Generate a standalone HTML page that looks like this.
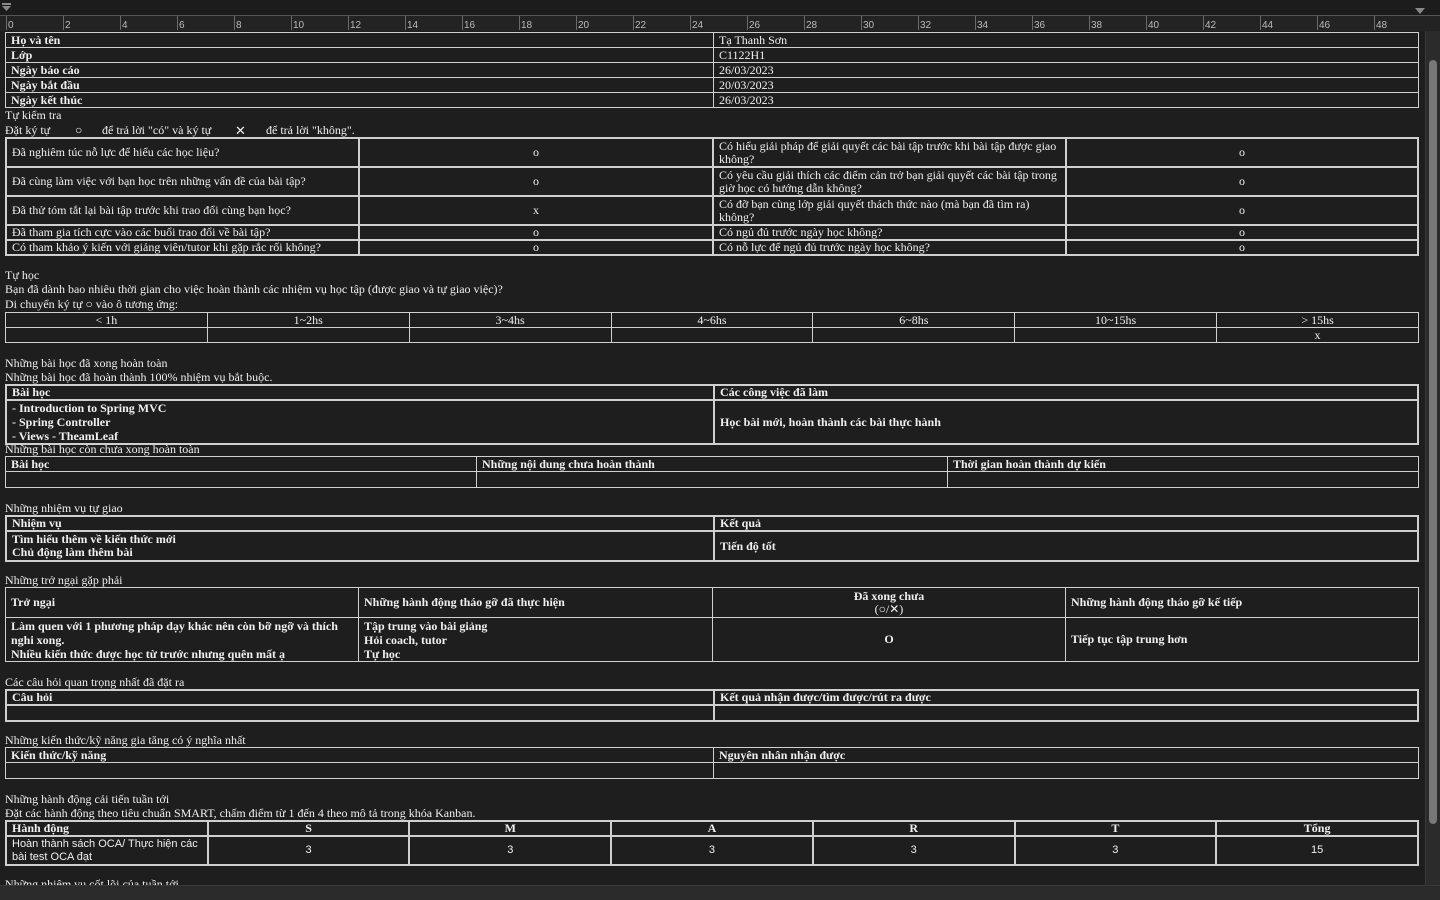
<!DOCTYPE html>
<html><head><meta charset="utf-8">
<style>
*{margin:0;padding:0;box-sizing:border-box}
html,body{width:1440px;height:900px;overflow:hidden;background:#1e1e1e;color:#f0f0f0;font-family:"Liberation Serif","DejaVu Serif",serif;font-size:12px;line-height:13px}
.t{position:absolute;left:5px;white-space:nowrap}
table{position:absolute;left:5px;width:1414px;border-collapse:collapse;table-layout:fixed}
td{border:1px solid #d0d0d0;padding:0 5px;vertical-align:middle;overflow:hidden;white-space:nowrap}
table.d td{border:2px solid #cfcfcf}
b{font-weight:bold}
.c{text-align:center}
.s{font-family:"Liberation Sans",sans-serif;font-size:11px}
</style></head><body>
<div style="position:absolute;left:0;top:0;width:1440px;height:15px;background:#1c1c1c"></div>
<svg style="position:absolute;left:0;top:0" width="1440" height="32">
<rect x="0" y="15" width="1440" height="16" fill="#232323"/>
<line x1="0" y1="15.5" x2="1440" y2="15.5" stroke="#555"/>
<polygon points="2,6 11,6 6.5,11" fill="#888"/>
<rect x="2" y="3" width="9" height="2" fill="#888"/>
<polygon points="1415,8 1425,8 1420,14" fill="#888"/>
</svg>
<div style="position:absolute;left:1425px;top:31px;width:15px;height:854px;background:#2b2b2b;border-left:1px solid #3a3a3a"></div>
<div style="position:absolute;left:1429px;top:60px;width:8px;height:764px;background:#777;border-radius:4px"></div>

<table style="top:32px"><colgroup><col style="width:708px"><col></colgroup>
<tr style="height:15px"><td><b>Họ và tên</b></td><td>Tạ Thanh Sơn</td></tr>
<tr style="height:15px"><td><b>Lớp</b></td><td>C1122H1</td></tr>
<tr style="height:15px"><td><b>Ngày báo cáo</b></td><td>26/03/2023</td></tr>
<tr style="height:15px"><td><b>Ngày bắt đầu</b></td><td>20/03/2023</td></tr>
<tr style="height:15px"><td><b>Ngày kết thúc</b></td><td>26/03/2023</td></tr>
</table>
<div class="t" style="top:109px">Tự kiểm tra</div>
<div class="t" style="top:124px">Đặt ký tự<span style="position:absolute;left:70px">○</span><span style="position:absolute;left:97px">để trả lời "có" và ký tự</span><span style="position:absolute;left:230px;font-size:13px">✕</span><span style="position:absolute;left:261px">để trả lời "không".</span></div>

<table class="d" style="top:137px"><colgroup><col style="width:353px"><col style="width:354px"><col style="width:353px"><col></colgroup>
<tr style="height:29px"><td>Đã nghiêm túc nỗ lực để hiểu các học liệu?</td><td class="c">o</td><td style="white-space:normal">Có hiểu giải pháp để giải quyết các bài tập trước khi bài tập được giao không?</td><td class="c">o</td></tr>
<tr style="height:29px"><td>Đã cùng làm việc với bạn học trên những vấn đề của bài tập?</td><td class="c">o</td><td style="white-space:normal">Có yêu cầu giải thích các điểm cản trở bạn giải quyết các bài tập trong giờ học có hướng dẫn không?</td><td class="c">o</td></tr>
<tr style="height:29px"><td>Đã thử tóm tắt lại bài tập trước khi trao đổi cùng bạn học?</td><td class="c">x</td><td style="white-space:normal">Có đỡ bạn cùng lớp giải quyết thách thức nào (mà bạn đã tìm ra) không?</td><td class="c">o</td></tr>
<tr style="height:15px"><td>Đã tham gia tích cực vào các buổi trao đổi về bài tập?</td><td class="c">o</td><td>Có ngủ đủ trước ngày học không?</td><td class="c">o</td></tr>
<tr style="height:15px"><td>Có tham khảo ý kiến với giảng viên/tutor khi gặp rắc rối không?</td><td class="c">o</td><td>Có nỗ lực để ngủ đủ trước ngày học không?</td><td class="c">o</td></tr>
</table>

<div class="t" style="top:269px">Tự học</div>
<div class="t" style="top:283px">Bạn đã dành bao nhiêu thời gian cho việc hoàn thành các nhiệm vụ học tập (được giao và tự giao việc)?</div>
<div class="t" style="top:298px">Di chuyển ký tự ○ vào ô tương ứng:</div>
<table style="top:312px">
<tr style="height:15px"><td class="c">&lt; 1h</td><td class="c">1~2hs</td><td class="c">3~4hs</td><td class="c">4~6hs</td><td class="c">6~8hs</td><td class="c">10~15hs</td><td class="c">&gt; 15hs</td></tr>
<tr style="height:15px"><td></td><td></td><td></td><td></td><td></td><td></td><td class="c">x</td></tr>
</table>

<div class="t" style="top:357px">Những bài học đã xong hoàn toàn</div>
<div class="t" style="top:371px">Những bài học đã hoàn thành 100% nhiệm vụ bắt buộc.</div>
<table class="d" style="top:384px"><colgroup><col style="width:708px"><col></colgroup>
<tr style="height:15px"><td><b>Bài học</b></td><td><b>Các công việc đã làm</b></td></tr>
<tr style="height:43px"><td style="line-height:14px"><b>- Introduction to Spring MVC<br>- Spring Controller<br>- Views - TheamLeaf</b></td><td><b>Học bài mới, hoàn thành các bài thực hành</b></td></tr>
</table>
<div class="t" style="top:443px">Những bài học còn chưa xong hoàn toàn</div>
<table style="top:456px"><colgroup><col style="width:471px"><col style="width:471px"><col></colgroup>
<tr style="height:15px"><td><b>Bài học</b></td><td><b>Những nội dung chưa hoàn thành</b></td><td><b>Thời gian hoàn thành dự kiến</b></td></tr>
<tr style="height:16px"><td></td><td></td><td></td></tr>
</table>

<div class="t" style="top:502px">Những nhiệm vụ tự giao</div>
<table class="d" style="top:515px"><colgroup><col style="width:708px"><col></colgroup>
<tr style="height:15px"><td><b>Nhiệm vụ</b></td><td><b>Kết quả</b></td></tr>
<tr style="height:30px"><td><b>Tìm hiểu thêm về kiến thức mới<br>Chủ động làm thêm bài</b></td><td><b>Tiến độ tốt</b></td></tr>
</table>

<div class="t" style="top:574px">Những trở ngại gặp phải</div>
<table style="top:587px"><colgroup><col style="width:353px"><col style="width:354px"><col style="width:353px"><col></colgroup>
<tr style="height:30px"><td><b>Trở ngại</b></td><td><b>Những hành động tháo gỡ đã thực hiện</b></td><td class="c"><b>Đã xong chưa</b><br>(○/✕)</td><td><b>Những hành động tháo gỡ kế tiếp</b></td></tr>
<tr style="height:44px"><td style="white-space:normal;line-height:14px"><b>Làm quen với 1 phương pháp dạy khác nên còn bỡ ngỡ và thích nghi xong.<br>Nhiều kiến thức được học từ trước nhưng quên mất ạ</b></td><td style="line-height:14px"><b>Tập trung vào bài giảng<br>Hỏi coach, tutor<br>Tự học</b></td><td class="c"><b>O</b></td><td><b>Tiếp tục tập trung hơn</b></td></tr>
</table>

<div class="t" style="top:676px">Các câu hỏi quan trọng nhất đã đặt ra</div>
<table class="d" style="top:689px"><colgroup><col style="width:708px"><col></colgroup>
<tr style="height:15px"><td><b>Câu hỏi</b></td><td><b>Kết quả nhận được/tìm được/rút ra được</b></td></tr>
<tr style="height:16px"><td></td><td></td></tr>
</table>

<div class="t" style="top:734px">Những kiến thức/kỹ năng gia tăng có ý nghĩa nhất</div>
<table style="top:747px"><colgroup><col style="width:708px"><col></colgroup>
<tr style="height:15px"><td><b>Kiến thức/kỹ năng</b></td><td><b>Nguyên nhân nhận được</b></td></tr>
<tr style="height:16px"><td></td><td></td></tr>
</table>

<div class="t" style="top:793px">Những hành động cải tiến tuần tới</div>
<div class="t" style="top:807px">Đặt các hành động theo tiêu chuẩn SMART, chấm điểm từ 1 đến 4 theo mô tả trong khóa <span style="border-bottom:1px dotted #c33">Kanban</span>.</div>
<table class="d" style="top:820px">
<tr style="height:15px"><td><b>Hành động</b></td><td class="c"><b>S</b></td><td class="c"><b>M</b></td><td class="c"><b>A</b></td><td class="c"><b>R</b></td><td class="c"><b>T</b></td><td class="c"><b>Tổng</b></td></tr>
<tr style="height:29px"><td class="s" style="white-space:normal">Hoàn thành sách OCA/ Thực hiện các bài test OCA đạt</td><td class="c s">3</td><td class="c s">3</td><td class="c s">3</td><td class="c s">3</td><td class="c s">3</td><td class="c s">15</td></tr>
</table>
<div class="t" style="top:878px;height:7px;overflow:hidden">Những nhiệm vụ cốt lõi của tuần tới</div>
<div style="position:absolute;left:0;top:885px;width:1440px;height:15px;background:#2a2a2a;border-top:1px solid #3a3a3a"></div>

<svg style="position:absolute;left:0;top:15px" width="1425" height="16">
<g stroke="#6a6a6a" stroke-width="1">
<line x1="6.5" y1="1" x2="6.5" y2="15"/><line x1="63.5" y1="1" x2="63.5" y2="15"/><line x1="120.5" y1="1" x2="120.5" y2="15"/><line x1="177.5" y1="1" x2="177.5" y2="15"/><line x1="234.5" y1="1" x2="234.5" y2="15"/><line x1="291.5" y1="1" x2="291.5" y2="15"/><line x1="348.5" y1="1" x2="348.5" y2="15"/><line x1="405.5" y1="1" x2="405.5" y2="15"/><line x1="462.5" y1="1" x2="462.5" y2="15"/><line x1="519.5" y1="1" x2="519.5" y2="15"/><line x1="576.5" y1="1" x2="576.5" y2="15"/><line x1="633.5" y1="1" x2="633.5" y2="15"/><line x1="690.5" y1="1" x2="690.5" y2="15"/><line x1="747.5" y1="1" x2="747.5" y2="15"/><line x1="804.5" y1="1" x2="804.5" y2="15"/><line x1="861.5" y1="1" x2="861.5" y2="15"/><line x1="918.5" y1="1" x2="918.5" y2="15"/><line x1="975.5" y1="1" x2="975.5" y2="15"/><line x1="1032.5" y1="1" x2="1032.5" y2="15"/><line x1="1089.5" y1="1" x2="1089.5" y2="15"/><line x1="1146.5" y1="1" x2="1146.5" y2="15"/><line x1="1203.5" y1="1" x2="1203.5" y2="15"/><line x1="1260.5" y1="1" x2="1260.5" y2="15"/><line x1="1317.5" y1="1" x2="1317.5" y2="15"/><line x1="1374.5" y1="1" x2="1374.5" y2="15"/>
</g>
<g fill="#bbb" font-family="Liberation Sans,sans-serif" font-size="10">
<text x="8" y="13">0</text><text x="65" y="13">2</text><text x="122" y="13">4</text><text x="179" y="13">6</text><text x="236" y="13">8</text><text x="293" y="13">10</text><text x="350" y="13">12</text><text x="407" y="13">14</text><text x="464" y="13">16</text><text x="521" y="13">18</text><text x="578" y="13">20</text><text x="635" y="13">22</text><text x="692" y="13">24</text><text x="749" y="13">26</text><text x="806" y="13">28</text><text x="863" y="13">30</text><text x="920" y="13">32</text><text x="977" y="13">34</text><text x="1034" y="13">36</text><text x="1091" y="13">38</text><text x="1148" y="13">40</text><text x="1205" y="13">42</text><text x="1262" y="13">44</text><text x="1319" y="13">46</text><text x="1376" y="13">48</text>
</g>
</svg>
</body></html>
